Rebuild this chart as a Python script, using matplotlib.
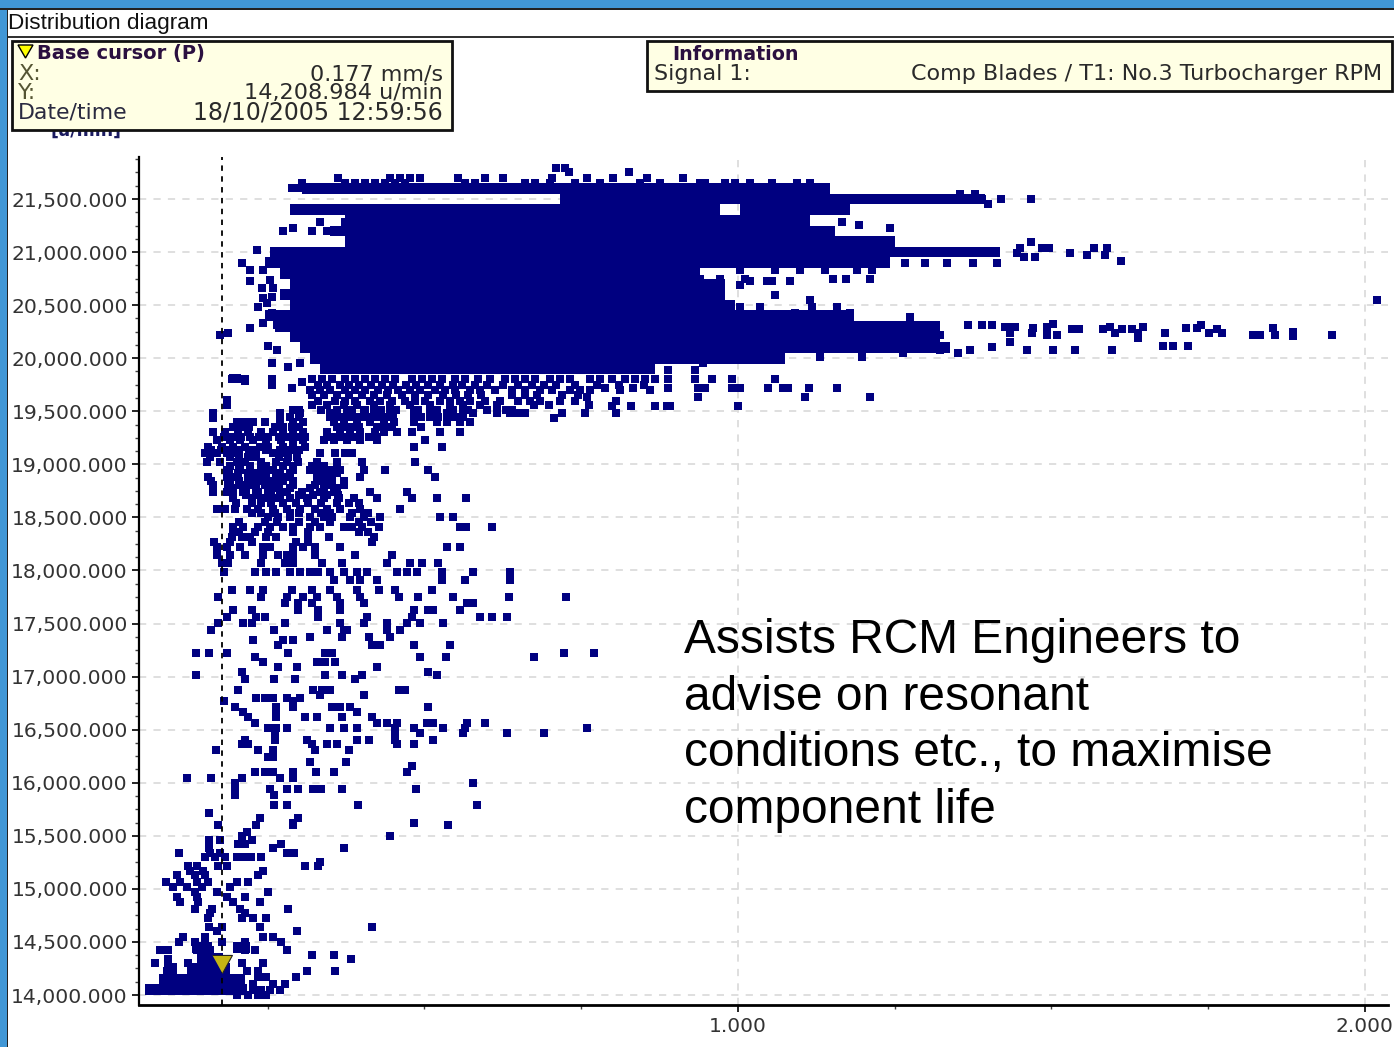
"""Distribution diagram: turbocharger RPM against blade vibration, screen capture look."""
import matplotlib
matplotlib.use('Agg')
import matplotlib.pyplot as plt
from matplotlib.patches import Rectangle, Polygon
from matplotlib.ticker import FuncFormatter, MultipleLocator

W, H = 1394, 1047
NAVY = '#000080'
MS = 6.1

# Solid part of the cloud: one bar per 100 u/min
band_rpm = [21600, 21500, 21400, 21400, 21300, 21200, 21100, 21000, 20900, 20800, 20700, 20600,
            20500, 20400, 20300, 20200, 20100, 20000, 19900, 14450, 14450, 14350, 14250, 14250, 14150, 14050]
band_start = [.305, .716, .285, 1.003, .373, .350, .373, .254, .246, .270, .285, .270,
              .285, .246, .262, .285, .301, .317, .333, .129, .195, .137, .084, .121, .076, .054]
band_end = [1.147, 1.394, .971, 1.179, 1.115, 1.155, 1.250, 1.418, 1.242, .940, .979, .979,
            .995, 1.186, 1.322, 1.322, 1.338, 1.075, .868, .161, .222, .179, .105, .190, .214, .217]

# Separate points, u/min -> mm/s
upper_rows = {
    21790: [.710, .724],
    21750: [.826, .730],
    21700: [.362, .445, .461, .477, .493, .553, .596, .625, .703, .759, .801, .855, .912],
    21650: [.305, .373, .389, .405, .421, .437, .453, .469, .565, .581, .660, .676, .700, .740, .780,
            .844, .876, .939, .947, .979, .995, 1.019, 1.054, 1.094, 1.115],
    21600: [.289, .301, .317, .333],
    21550: [1.354, 1.378],
    21500: [1.389, 1.419, 1.467],
    21450: [1.399],
    21280: [1.166, .333, .373],
    21260: [1.193],
    21230: [1.242, .290],
    21200: [.274, .321, .344, .365],
    20900: [1.266, 1.298, 1.333, 1.375, 1.413],
    20830: [1.214, 1.190, 1.139, 1.099, 1.059, 1.003],
    20750: [1.152, 1.172, 1.211, .971, .939, 1.011, .923],
    20730: [1.019, 1.046, 1.083, 1.054],
    20690: [1.003],
    20600: [1.059],
    20550: [1.115],
    20480: [1.118, 1.158, 1.003, 1.035],
    20430: [1.179, 1.091],
    20388: [1.274],
    20313: [1.287, 1.367, 1.389, 1.405],
    20219: [1.287, 1.322],
    20106: [1.301, 1.405],
    20077: [1.370, 1.322, 1.461],
    20049: [1.263, 1.351],
    20011: [1.198, 1.131],
    19955: [.944, .257, .301],
    19889: [.888, .931],
    19800: [.321, .337, .352, .373, .389, .405, .421, .437, .453, .480, .496, .512, .528, .549, .565,
            .585, .604, .628, .644, .660, .676, .700, .716, .732, .764, .780, .799, .820, .836, .852,
            .868, .931, .959, .990, 1.059, .193, .206, .214, .888, .257],
    19750: [.330, .345, .365, .380, .395, .415, .432, .450, .470, .487, .505, .525, .545, .560, .580,
            .600, .625, .650, .672, .690, .710, .740, .775, .810, .850],
    19720: [.888, .936, .947, .990, 1.003, 1.048, 1.072, 1.080, 1.113, 1.158, .788, .289, .833],
    19700: [.317, .333, .349, .373, .389, .405, .426, .442, .458, .477, .493, .517, .533, .549, .573,
            .589, .612, .640, .660, .684, .703, .732, .748, .764, .812, .860],
    19650: [.320, .340, .360, .380, .400, .420, .440, .465, .485, .505, .530, .550, .570, .590, .640,
            .660, .680, .720, .745],
    19630: [.936, 1.211, .759, 1.107],
    19600: [.330, .357, .373, .389, .413, .429, .448, .469, .485, .501, .525, .541, .557, .573, .596,
            .620, .649, .668, .684, .716, .740, .805, .185],
    19550: [.868, .887, .892, .829, 1.000, .799],
    19510: [.290, .300, .335, .360, .385, .405, .430, .455, .490, .520, .545, .570, .600, .630, .640],
}

middle_rows = {
    19559: [.185, .320, .344, .371, .392, .419, .445, .477, .509, .541, .562, .589, .615, .674, .698, .762],
    19480: [.163, .270, .302, .350, .376, .403, .419, .445, .483, .509, .536, .562, .578, .615, .637,
            .650, .661, .719, .756, .805, .756],
    19449: [.270, .285, .300, .350, .362, .375, .388, .400, .412, .425, .437, .450, .483, .495, .509,
            .522, .536, .549, .562],
    19433: [.706],
    19400: [.201, .214, .227, .246, .270, .291, .307, .355, .371, .392, .413, .435, .451, .483, .520, .536, .557, .573],
    19355: [.195, .208, .220, .262, .275, .288, .300, .360, .372, .384, .396, .425, .437, .449, .495],
    19308: [.163, .182, .203, .219, .240, .259, .275, .291, .307, .344, .365, .381, .397, .421, .435, .456, .480, .525, .557],
    19260: [.180, .195, .208, .222, .236, .250, .268, .283, .297, .310, .350, .362, .375, .388, .412, .425],
    19230: [.169, .190, .206, .227, .248, .272, .291, .307, .339, .355, .376, .397, .424, .501],
    19166: [.155, .177, .195, .214, .238, .251, .275, .291, .310, .483, .528],
    19135: [.160, .175, .190, .205, .220, .232, .248, .270, .285, .300],
    19104: [.150, .169, .185, .203, .222, .259, .275, .296, .334, .358, .374, .384],
    19066: [.158, .190, .205, .218, .232, .268, .282, .296],
    19025: [.153, .174, .201, .214, .240, .264, .280, .299, .328, .360, .400, .485],
    18984: [.190, .205, .222, .248, .275, .290, .320, .340, .360],
    18947: [.185, .206, .240, .259, .291, .318, .331, .352, .365, .403, .437, .506],
    18915: [.188, .203, .218, .232, .248, .270, .285, .335, .345, .360],
    18884: [.154, .185, .201, .222, .243, .264, .280, .328, .350, .397, .517],
    18843: [.160, .190, .205, .218, .235, .255, .275, .290, .338, .352, .372],
    18805: [.163, .187, .206, .225, .246, .264, .291, .326, .350, .371],
    18774: [.195, .215, .232, .250, .268, .285, .318, .340, .360],
    18742: [.163, .185, .211, .235, .256, .280, .304, .334, .355, .413, .472],
    18711: [.195, .215, .232, .250, .270, .300, .322, .345, .362],
    18680: [.195, .225, .243, .264, .286, .312, .339, .363, .387, .424, .480, .520, .566],
    18633: [.200, .225, .240, .255, .275, .295, .315, .335, .360, .380, .395],
    18576: [.169, .182, .198, .217, .235, .259, .280, .302, .326, .344, .365, .397, .461],
    18538: [.225, .240, .262, .285, .300, .335, .350, .385, .410],
    18507: [.251, .267, .286, .318, .339, .352, .381, .403, .429, .525, .545],
    18460: [.205, .245, .265, .300, .325, .350, .395, .415],
    18413: [.195, .211, .235, .254, .275, .291, .318, .334, .371, .384, .400, .427, .556, .567, .608],
    18366: [.195, .205, .230, .250, .290, .315, .395, .410],
    18319: [.193, .209, .222, .248, .264, .315, .348, .419],
    18272: [.165, .190, .225, .295, .315, .416],
    18224: [.169, .185, .206, .243, .254, .291, .307, .326, .365, .536, .556],
    18146: [.169, .190, .214, .243, .267, .280, .291, .326, .389, .448],
    18067: [.177, .187, .240, .278, .291, .336, .368, .440, .477, .496, .522],
    17989: [.181, .230, .248, .264, .286, .302, .318, .331, .350, .371, .392, .408, .456, .472, .488, .528, .578, .637],
    17910: [.355, .381, .397, .424, .528, .565, .637],
    17816: [.193, .222, .243, .288, .320, .350, .392, .427, .453, .512],
    17753: [.170, .240, .280, .307, .328, .360, .397, .459, .490, .545, .635, .726],
    17690: [.278, .299, .320, .365, .403, .568, .578],
    17628: [.195, .225, .299, .331, .365, .483, .506, .514, .557],
    17565: [.185, .232, .246, .331, .408, .480, .589, .608, .631],
    17502: [.171, .211, .225, .278, .365, .403, .440, .472, .493, .530],
    17439: [.160, .260, .344, .371, .376, .440, .461],
    17377: [.318, .368, .411, .445],
    17345: [.226, .275, .291],
    17298: [.267, .416, .429, .483, .540],
    17220: [.136, .156, .185, .283, .342, .352, .722, .771],
    17182: [.230, .493, .535, .674],
    17141: [.243, .328, .342, .358],
    17094: [.267, .296, .424],
    17047: [.209, .506],
    17015: [.136, .342, .368, .400, .520],
    16975: [.213, .260, .294, .389],
    16874: [.202, .323, .336, .350, .459, .469],
    16827: [.403, .334],
    16796: [.232, .246, .259, .302, .280],
}

lower_rows = {
    16771: [.181, .291],
    16717: [.198, .264, .291, .352, .365, .381, .506],
    16670: [.211, .264, .392],
    16623: [.219, .264, .310, .328, .368, .416],
    16560: [.230, .424, .440, .456, .504, .514, .597, .568],
    16513: [.251, .264, .280, .350, .371, .392, .453, .483, .530, .565, .759],
    16466: [.262, .453, .493, .562, .631, .690],
    16403: [.214, .262, .312, .392, .411, .453, .514],
    16362: [.209, .219, .320, .344, .361, .456, .483],
    16309: [.168, .235, .259, .326, .379],
    16246: [.251, .259],
    16199: [.318, .375],
    16158: [.480],
    16105: [.230, .246, .259, .291, .327, .355, .472],
    16042: [.122, .160, .209, .270, .291],
    15995: [.198, .577],
    15938: [.198, .254, .281, .299, .322, .335, .368, .486],
    15885: [.198, .260],
    15791: [.260, .281, .394, .584],
    15712: [.156],
    15665: [.237, .299],
    15624: [.291, .483],
    15602: [.171, .232, .291, .538],
    15540: [.217],
    15499: [.209, .445],
    15461: [.157, .174, .225],
    15424: [.157, .203, .214, .271],
    15383: [.157, .258, .372],
    15342: [.109, .158, .174, .281, .292],
    15304: [.150, .166, .182, .201, .214, .223, .240],
    15257: [.334],
    15216: [.123, .137, .171, .185, .310, .331],
    15172: [.126, .147, .243],
    15132: [.105, .134, .150, .235],
    15069: [.088, .110, .137, .155, .201, .219],
    15022: [.099, .121, .145, .190],
    14974: [.134, .169, .251],
    14927: [.105, .137, .185, .214],
    14880: [.110, .139, .195, .237],
    14808: [.134, .161, .206, .282],
    14770: [.158, .214],
    14723: [.154, .209, .226, .247],
    14645: [.157, .177, .237, .417],
    14604: [.169, .296],
    14544: [.115, .150, .243, .259],
    14497: [.109, .134, .150, .177, .214, .272],
    14425: [.078, .091, .137, .158, .214, .230, .281],
    14378: [.320, .355],
    14337: [.091, .383],
    14299: [.070, .123, .209, .243],
    14230: [.089, .217, .235, .312, .358],
    14174: [.235, .248, .295],
    14100: [.200, .227, .259, .278],
    14050: [.226, .232, .240, .254, .270],
    14000: [.201, .219, .235, .248],
}

# Points right of the dense cloud
far_x = [1.467, 1.450, 1.445, 1.456, 1.474, 1.485, 1.496, 1.530, 1.557, 1.568, 1.589, 1.585, 1.611]
far_y = [21095, 21038, 20991, 20954, 20954, 21038, 21038, 20991, 20972, 21038, 21038, 20972, 20916]
tail_x = [1.434, 1.426, 1.442, 1.434, 1.434, 1.461, 1.470, 1.469, 1.493, 1.502, 1.493, 1.509, 1.502,
          1.533, 1.544, 1.537, 1.582, 1.593, 1.601, 1.596, 1.612, 1.628, 1.646, 1.638, 1.638, 1.681,
          1.678, 1.694, 1.718, 1.714, 1.732, 1.738, 1.751, 1.764, 1.773, 1.821, 1.833, 1.853, 1.856,
          1.885, 1.885, 1.947, 2.019]
tail_y = [20294, 20294, 20294, 20237, 20153, 20077, 20285, 20237, 20294, 20322, 20219, 20219, 20077,
          20275, 20275, 20077, 20275, 20294, 20237, 20077, 20275, 20275, 20294, 20237, 20190, 20237,
          20115, 20115, 20115, 20285, 20285, 20313, 20237, 20275, 20237, 20219, 20219, 20285, 20219,
          20247, 20210, 20219, 20548]
# Left edge of the cloud
edge_x = [.233, .209, .222, .242, .222, .254, .241, .258, .242, .257, .234, .249, .257, .242, .265,
          .222, .174, .187, .250, .265, .257, .301, .282, .305, .289, .257, .201, .214, .195, .185, .163, .321]
edge_y = [21019, 20897, 20831, 20831, 20727, 20737, 20661, 20661, 20567, 20577, 20482, 20520, 20426,
          20332, 20313, 20285, 20219, 20237, 20115, 20077, 19955, 19955, 19917, 19776, 19719, 19748,
          19813, 19785, 19813, 19606, 19437, 19559]

y_ticks = [14000, 14500, 15000, 15500, 16000, 16500, 17000, 17500, 18000, 18500, 19000, 19500,
           20000, 20500, 21000, 21500]
x_ticks = [1.0, 2.0]
cursor_x = 0.177
cursor_y = 14208.984


def box(fig, x0, y0, x1, y1, **kw):
    # pixel box measured from the top left of the window
    fig.add_artist(Rectangle((x0 / W, 1 - y1 / H), (x1 - x0) / W, (y1 - y0) / H,
                             transform=fig.transFigure, **kw))


def label(fig, x, y, s, **kw):
    kw.setdefault('va', 'center')
    kw.setdefault('color', '#2a2a2a')
    kw.setdefault('fontsize', 16)
    fig.text(x / W, 1 - y / H, s, **kw)


fig = plt.figure(figsize=(W / 100, H / 100), dpi=100, facecolor='white')
ax = fig.add_axes([139 / W, 1 - 1005 / H, (1388 - 139) / W, (1005 - 157) / H])
ax.set_xlim(0.0447, 2.037)
ax.set_ylim(13906, 21896)

ax.set_yticks(y_ticks)
ax.set_xticks(x_ticks)
ax.yaxis.set_minor_locator(MultipleLocator(125))
ax.xaxis.set_minor_locator(MultipleLocator(0.25))
ax.yaxis.set_major_formatter(FuncFormatter(lambda v, p: f'{v:,.3f}'))
ax.xaxis.set_major_formatter(FuncFormatter(lambda v, p: f'{v:.3f}'))
ax.tick_params(axis='y', which='major', length=5, width=1.2, labelsize=14.6, labelcolor='#333333', pad=3)
ax.tick_params(axis='x', which='major', length=5, width=1.2, labelsize=14.5, labelcolor='#333333', pad=4)
ax.tick_params(which='minor', length=3, width=1, color='#444444')
ax.grid(True, which='major', color='#dcdcdc', linestyle=(0, (4, 4)), linewidth=1.3)
ax.set_axisbelow(True)
ax.spines['top'].set_visible(False)
ax.spines['right'].set_visible(False)
ax.spines['left'].set_linewidth(1.6)
ax.spines['bottom'].set_linewidth(2)

for rpm, x0, x1 in zip(band_rpm, band_start, band_end):
    ax.barh(rpm, x1 - x0, left=x0, height=100, color=NAVY, linewidth=0, zorder=3)
for rows in (upper_rows, middle_rows, lower_rows):
    for rpm, xs in rows.items():
        ax.plot(xs, [rpm] * len(xs), 's', color=NAVY, ms=MS, mew=0, zorder=3)
ax.plot(far_x, far_y, 's', color=NAVY, ms=MS, mew=0, zorder=3)
ax.plot(tail_x, tail_y, 's', color=NAVY, ms=MS, mew=0, zorder=3)
ax.plot(edge_x, edge_y, 's', color=NAVY, ms=MS, mew=0, zorder=3)

ax.axvline(cursor_x, color='black', linestyle=(0, (3, 3)), linewidth=1.3, ymax=1, zorder=4)
# triangle with its tip on the cursor value
ax.plot([cursor_x], [cursor_y], marker=[(-.55, 1), (.55, 1), (0, 0)], color='#c4b414', ms=26,
        mec='#222222', mew=0.8, zorder=5, linestyle='none')

fig.text(684 / W, 1 - 618 / H, 'Assists RCM Engineers to\nadvise on resonant\nconditions etc., to maximise\ncomponent life',
         family='Liberation Sans', fontsize=34.5, color='black', va='top', ha='left', linespacing=1.33)

# window chrome
box(fig, 0, 0, W, 8, facecolor='#4197d6', edgecolor='none')
box(fig, 0, 0, 7, H, facecolor='#4197d6', edgecolor='none')
box(fig, 0, 8, W, 9.5, facecolor='#222222', edgecolor='none')
box(fig, 7, 8, 8.5, H, facecolor='#222222', edgecolor='none')
box(fig, 8, 35.5, W, 37.5, facecolor='#333333', edgecolor='none')
label(fig, 8, 23, 'Distribution diagram', family='Liberation Sans', fontsize=16.2, color='#111111')

label(fig, 50, 131, '[u/min]', fontsize=12.5, fontweight='bold', color='#1a1a60', zorder=0.5)
box(fig, 12, 41, 452, 130, facecolor='#ffffe4', edgecolor='#111111', linewidth=2)
box(fig, 647, 41, 1392, 91, facecolor='#ffffe4', edgecolor='#111111', linewidth=2)
fig.add_artist(Polygon([[18 / W, 1 - 45 / H], [33 / W, 1 - 45 / H], [25.5 / W, 1 - 58 / H]],
                       transform=fig.transFigure, facecolor='#ffff00', edgecolor='black', linewidth=1))
label(fig, 37, 54, 'Base cursor (P)', fontweight='bold', fontsize=14, color='#2b1040')
label(fig, 18, 74, 'X:', color='#555533')
label(fig, 18, 93, 'Y:', color='#555533')
label(fig, 18, 113, 'Date/time', fontsize=15.8, color='#2a2a40')
label(fig, 443, 74, '0.177 mm/s', ha='right')
label(fig, 443, 93, '14,208.984 u/min', ha='right', fontsize=16.1)
label(fig, 443, 113, '18/10/2005 12:59:56', ha='right', fontsize=17)
label(fig, 672, 54, 'Information', fontweight='bold', fontsize=13.7, color='#2b1040')
label(fig, 654, 74, 'Signal 1:', fontsize=15.9)
label(fig, 1382, 74, 'Comp Blades / T1: No.3 Turbocharger RPM', ha='right', fontsize=16)

fig.savefig('out.png', dpi=100)
